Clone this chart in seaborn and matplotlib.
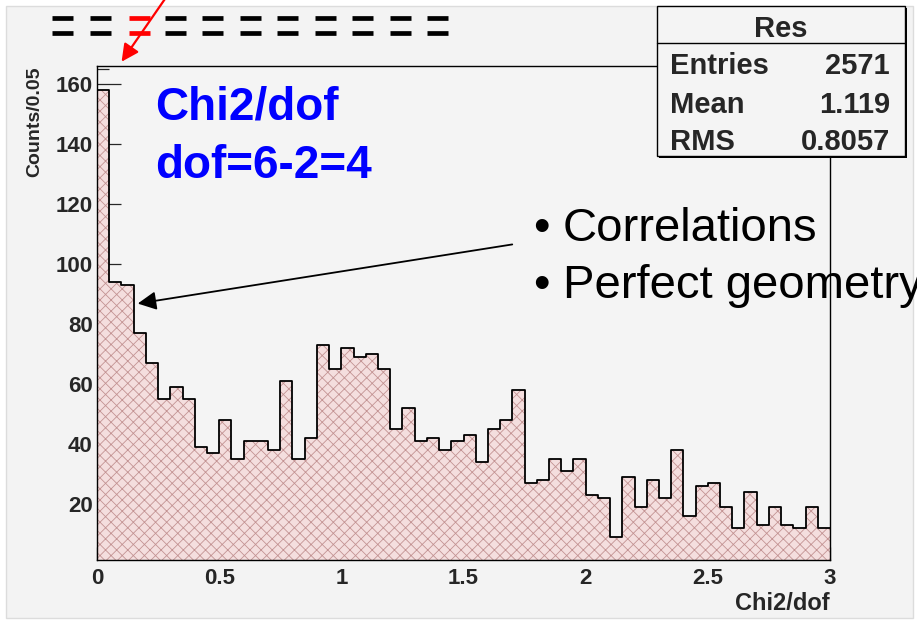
import numpy as np
import pandas as pd
import matplotlib
matplotlib.use("Agg")
import matplotlib.pyplot as plt
from matplotlib.ticker import MultipleLocator, FixedLocator
from matplotlib.patches import Rectangle, FancyArrowPatch
from matplotlib.lines import Line2D
import seaborn as sns

# ---------------- data ----------------
x_min, x_max, n_bins = 0.0, 3.0, 60
counts = [158, 94, 93, 77, 67, 55, 59, 55, 39, 37,
          48, 35, 41, 41, 38, 61, 35, 42, 73, 65,
          72, 69, 70, 65, 45, 52, 41, 42, 38, 41,
          43, 34, 45, 48, 58, 27, 28, 35, 31, 35,
          23, 22, 9, 29, 19, 28, 22, 38, 16, 26,
          27, 19, 12, 24, 13, 19, 13, 12, 19, 12]
x_ticks = [0, 0.5, 1, 1.5, 2, 2.5, 3]
x_tick_labels = ["0", "0.5", "1", "1.5", "2", "2.5", "3"]
y_ticks = [20, 40, 60, 80, 100, 120, 140, 160]
y_tick_labels = [str(v) for v in y_ticks]
stats_title = "Res"
stats_names = ["Entries", "Mean", "RMS"]
stats_values = ["2571", "1.119", "0.8057"]
x_label = "Chi2/dof"
y_label = "Counts/0.05"
blue_lines = ["Chi2/dof", "dof=6-2=4"]
bullet_lines = ["Correlations", "Perfect geometry"]

edges = np.linspace(x_min, x_max, n_bins + 1)
centers = 0.5 * (edges[:-1] + edges[1:])
df = pd.DataFrame({"chi2": centers, "counts": counts})

# ---------------- figure ----------------
W, H = 917, 622
sns.set_style("ticks")
plt.rcParams["font.family"] = ["Liberation Sans", "DejaVu Sans"]
plt.rcParams["hatch.linewidth"] = 0.6

fig = plt.figure(figsize=(W / 100, H / 100), dpi=100, facecolor="white")


def fx(x):
    return x / W


def fy(y):
    return 1 - y / H


# canvas background
fig.add_artist(Rectangle((fx(6), fy(618)), fx(907), 612 / H, transform=fig.transFigure,
                         facecolor="#f3f3f3", edgecolor="#dcdcdc", lw=1.0, zorder=-10))

ax = fig.add_axes([fx(97), fy(560), fx(830 - 97), (560 - 66) / H])
ax.set_facecolor("#f4f4f4")

# hatched fill
sns.histplot(data=df, x="chi2", weights="counts", bins=n_bins, binrange=(x_min, x_max),
             element="step", fill=True, ax=ax, color="#f4dede", alpha=1)
poly = ax.collections[-1]
poly.set_facecolor("#f4dede")
poly.set_edgecolor("#c39393")
poly.set_hatch("xxx")
poly.set_linewidth(0)

# black outline
sns.histplot(data=df, x="chi2", weights="counts", bins=n_bins, binrange=(x_min, x_max),
             element="step", fill=False, ax=ax, color="black", linewidth=1.3)

ax.set_xlim(x_min, x_max)
ax.set_ylim(1.5, 166)

ax.xaxis.set_major_locator(FixedLocator(x_ticks))
ax.set_xticklabels(x_tick_labels)
ax.xaxis.set_minor_locator(MultipleLocator(0.1))
ax.yaxis.set_major_locator(FixedLocator(y_ticks))
ax.set_yticklabels(y_tick_labels)
ax.yaxis.set_minor_locator(MultipleLocator(5))

ax.tick_params(axis="x", which="major", direction="in", length=9.5, width=0.9,
               labelsize=16, pad=6, top=False)
ax.tick_params(axis="x", which="minor", direction="in", length=5, width=0.9, top=False)
ax.tick_params(axis="y", which="major", direction="in", length=17, width=0.9,
               labelsize=16, pad=3, right=False)
ax.tick_params(axis="y", which="minor", direction="in", length=8.5, width=0.9, right=False)
for lab in ax.get_xticklabels() + ax.get_yticklabels():
    lab.set_fontweight("bold")

for s in ax.spines.values():
    s.set_linewidth(1.0)
    s.set_color("black")

ax.set_xlabel(x_label, fontsize=17, fontweight="bold", loc="right")
ax.xaxis.set_label_coords(1.0, -(592 - 560) / 494)
ax.set_ylabel(y_label, fontsize=14, fontweight="bold", loc="top")
ax.yaxis.set_label_coords(-(97 - 43) / 733, 0.998)

# blue annotation text
fig.text(fx(155), fy(120), blue_lines[0], color="#0000ff", fontsize=33,
         fontweight="bold", va="baseline", ha="left")
fig.text(fx(155), fy(178), blue_lines[1], color="#0000ff", fontsize=33,
         fontweight="bold", va="baseline", ha="left")

# bullet text (the second line runs off the right edge, as in the reference)
for txt, yb in zip(bullet_lines, [241, 298]):
    fig.text(fx(533), fy(yb), "\u2022", fontsize=34, va="baseline", ha="left", color="black")
    fig.text(fx(563), fy(yb), txt, fontsize=34, va="baseline", ha="left", color="black")

# black arrow
fig.add_artist(FancyArrowPatch((fx(515), fy(244)), (fx(135), fy(304)),
                               transform=fig.transFigure, arrowstyle="-|>",
                               mutation_scale=28, color="black", lw=1.3, zorder=6))
# red arrow
fig.add_artist(FancyArrowPatch((fx(167), fy(-4)), (fx(120), fy(64)),
                               transform=fig.transFigure, arrowstyle="-|>",
                               mutation_scale=26, color="#ff0000", lw=1.6, zorder=6))

# dashes at top
for i in range(11):
    x0 = 52 + 37.5 * i
    col = "#ff0000" if i == 2 else "black"
    dx = 2 if i == 2 else 0
    for yy in (18, 33):
        fig.add_artist(Line2D([fx(x0 + dx), fx(x0 + dx + 21)], [fy(yy), fy(yy)],
                              transform=fig.transFigure, color=col, lw=3.4,
                              solid_capstyle="butt", zorder=6))

# stats box
bx0, by0, bx1, by1 = 657, 6, 905, 156
fig.add_artist(Rectangle((fx(bx0 + 2), fy(by1 + 2)), fx(bx1 - bx0), (by1 - by0) / H,
                         transform=fig.transFigure, facecolor="black", edgecolor="none",
                         zorder=7))
fig.add_artist(Rectangle((fx(bx0), fy(by1)), fx(bx1 - bx0), (by1 - by0) / H,
                         transform=fig.transFigure, facecolor="#f4f4f4", edgecolor="black",
                         lw=1.0, zorder=8))
fig.add_artist(Line2D([fx(bx0), fx(bx1)], [fy(43), fy(43)], transform=fig.transFigure,
                      color="black", lw=1.0, zorder=9))
fig.text(fx(781), fy(37), stats_title, fontsize=21, fontweight="bold", ha="center",
         va="baseline", zorder=10)
for name, val, yb in zip(stats_names, stats_values, [74, 113, 150]):
    fig.text(fx(670), fy(yb), name, fontsize=21, fontweight="bold", ha="left",
             va="baseline", zorder=10)
    fig.text(fx(890), fy(yb), val, fontsize=21, fontweight="bold", ha="right",
             va="baseline", zorder=10)

fig.savefig("out.png", dpi=100)
